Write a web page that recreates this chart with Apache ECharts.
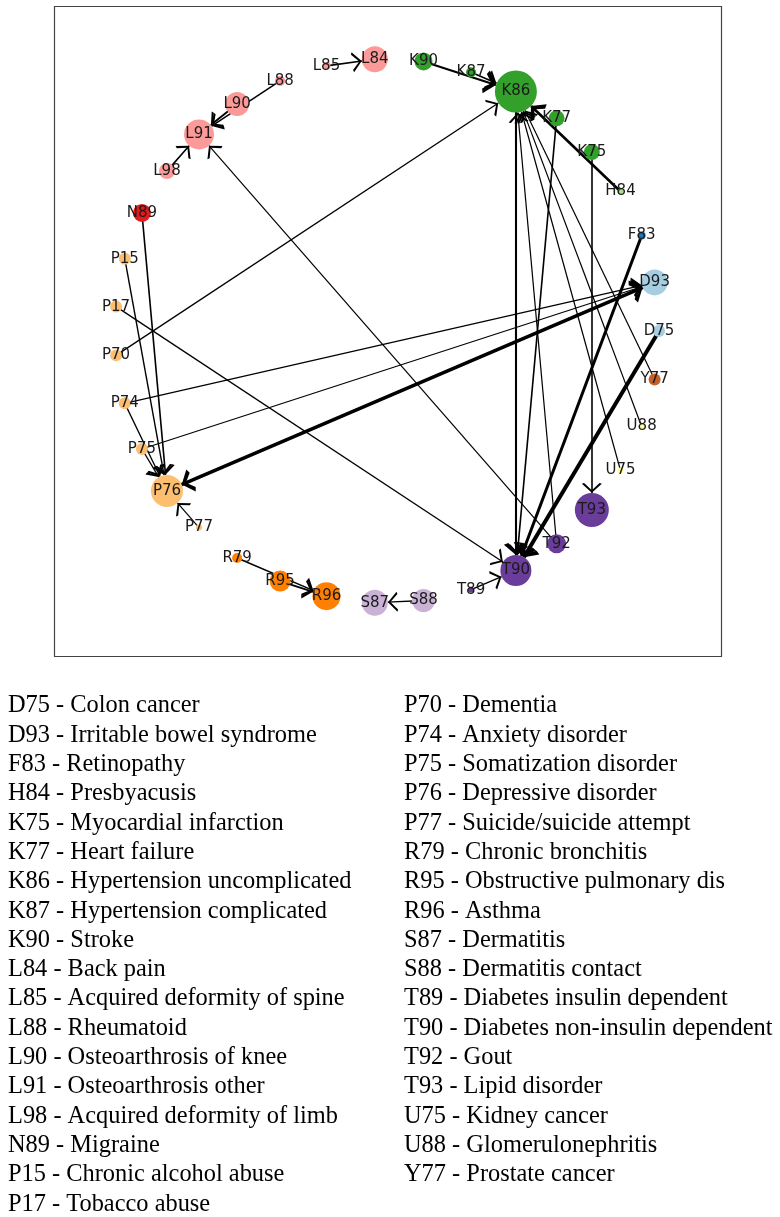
<!DOCTYPE html>
<html>
<head>
<meta charset="utf-8">
<script src="https://cdn.jsdelivr.net/npm/echarts@6/dist/echarts.min.js"></script>
<style>
html,body{margin:0;padding:0;background:#fff;}
#chart{width:780px;height:1217px;}
</style>
</head>
<body>
<div id="chart"></div>
<script>
// ---- data ----
const codes = ['D75','D93','F83','H84','K75','K77','K86','K87','K90','L84','L85','L88','L90','L91','L98','N89','P15','P17',
  'P70','P74','P75','P76','P77','R79','R95','R96','S87','S88','T89','T90','T92','T93','U75','U88','Y77'];
const descriptions = ['Colon cancer','Irritable bowel syndrome','Retinopathy','Presbyacusis','Myocardial infarction','Heart failure',
  'Hypertension uncomplicated','Hypertension complicated','Stroke','Back pain','Acquired deformity of spine','Rheumatoid',
  'Osteoarthrosis of knee','Osteoarthrosis other','Acquired deformity of limb','Migraine','Chronic alcohol abuse','Tobacco abuse',
  'Dementia','Anxiety disorder','Somatization disorder','Depressive disorder','Suicide/suicide attempt','Chronic bronchitis',
  'Obstructive pulmonary dis','Asthma','Dermatitis','Dermatitis contact','Diabetes insulin dependent','Diabetes non-insulin dependent',
  'Gout','Lipid disorder','Kidney cancer','Glomerulonephritis','Prostate cancer'];
const nodeWeight = [12,26,8,6,16,16,42,10,18,26,8,10,24,30,16,18,12,12,12,12,12,32,6,10,21,28,26,23,6,31,19,34,6,6,12];
const edgeSource = ['L85','L88','L90','L98','T92','N89','P15','P17','P70','P74','P74','P75','P75','D93','P76','P77','R79','R95','S88','T89',
  'K90','K87','H84','K86','K77','T92','U75','U88','Y77','K75','F83','D75'];
const edgeTarget = ['L84','L91','L91','L91','L91','P76','P76','T90','K86','D93','P76','D93','P76','P76','D93','P76','R96','R96','S87','T90',
  'K86','K86','K86','T90','T90','K86','K86','K86','K86','T93','T90','T90'];
const edgeWeight = [1.7,1.5,1.9,1.6,1.2,1.6,1.4,1.3,1.3,1.2,1.3,1.2,1.3,3.5,2,1.2,1.5,1.7,1.4,1.4,
  2.1,1.7,2.6,2.1,1.6,1.2,1.2,1.2,1.2,1.6,3,4];

// ---- styles ----
const groupColors = {D:'#a6cee3',F:'#1f78b4',H:'#b2df8a',K:'#33a02c',L:'#fb9a99',N:'#e31a1c',P:'#fdbf6f',R:'#ff7f00',S:'#cab2d6',T:'#6a3d9a',U:'#ffff99',Y:'#c45f28'};
const arrowThin = 'path://M5,-10L5.01,-10ZM5,0L10.3,8.8L9.1,9.6L5,2.4L0.9,9.6L-0.3,8.8Z';
const arrowThick = 'path://M5,-10L5.01,-10ZM5,0L10.8,8.4L8.7,9.9L5,3.8L1.3,9.9L-0.8,8.4Z';

const nodes = codes.map((c, i) => ({
  name: c,
  value: [1, i],
  symbolSize: nodeWeight[i],
  itemStyle: { color: groupColors[c[0]] }
}));
const links = edgeSource.map((s, i) => {
  const w = edgeWeight[i];
  return {
    source: s,
    target: edgeTarget[i],
    lineStyle: { width: w },
    symbol: ['none', w >= 2 ? arrowThick : arrowThin],
    symbolSize: w >= 2 ? [12, 24] : [10, 20]
  };
});

// legend texts
const legendEls = [];
const half = 18;
codes.forEach((c, i) => {
  const col = i < half ? 0 : 1;
  const row = i < half ? i : i - half;
  legendEls.push({
    type: 'text',
    x: col === 0 ? 8 : 404,
    y: 706 + row * 29.3,
    style: {
      text: c + ' - ' + descriptions[i],
      font: '24.4px "Liberation Serif", "Times New Roman", serif',
      fill: '#000',
      verticalAlign: 'middle'
    }
  });
});

const chart = echarts.init(document.getElementById('chart'));
chart.setOption({
  animation: false,
  backgroundColor: '#fff',
  polar: { center: [387, 331], radius: 272 },
  angleAxis: { type: 'value', min: 0, max: codes.length, startAngle: 0, clockwise: false, show: false },
  radiusAxis: { type: 'value', min: 0, max: 1, show: false },
  graphic: [
    { type: 'rect', shape: { x: 54.5, y: 6.5, width: 667, height: 650 }, style: { fill: 'none', stroke: '#444', lineWidth: 1.2 }, z: 0 }
  ].concat(legendEls),
  series: [{
    type: 'graph',
    coordinateSystem: 'polar',
    layout: 'none',
    data: nodes,
    links: links,
    edgeSymbol: ['none', arrowThin],
    edgeSymbolSize: [10, 20],
    lineStyle: { color: '#000', opacity: 1, curveness: 0 },
    label: { show: true, position: 'inside', color: '#1a1a1a', fontFamily: 'DejaVu Sans', fontSize: 15 },
    emphasis: { disabled: true }
  }]
});
</script>
</body>
</html>
